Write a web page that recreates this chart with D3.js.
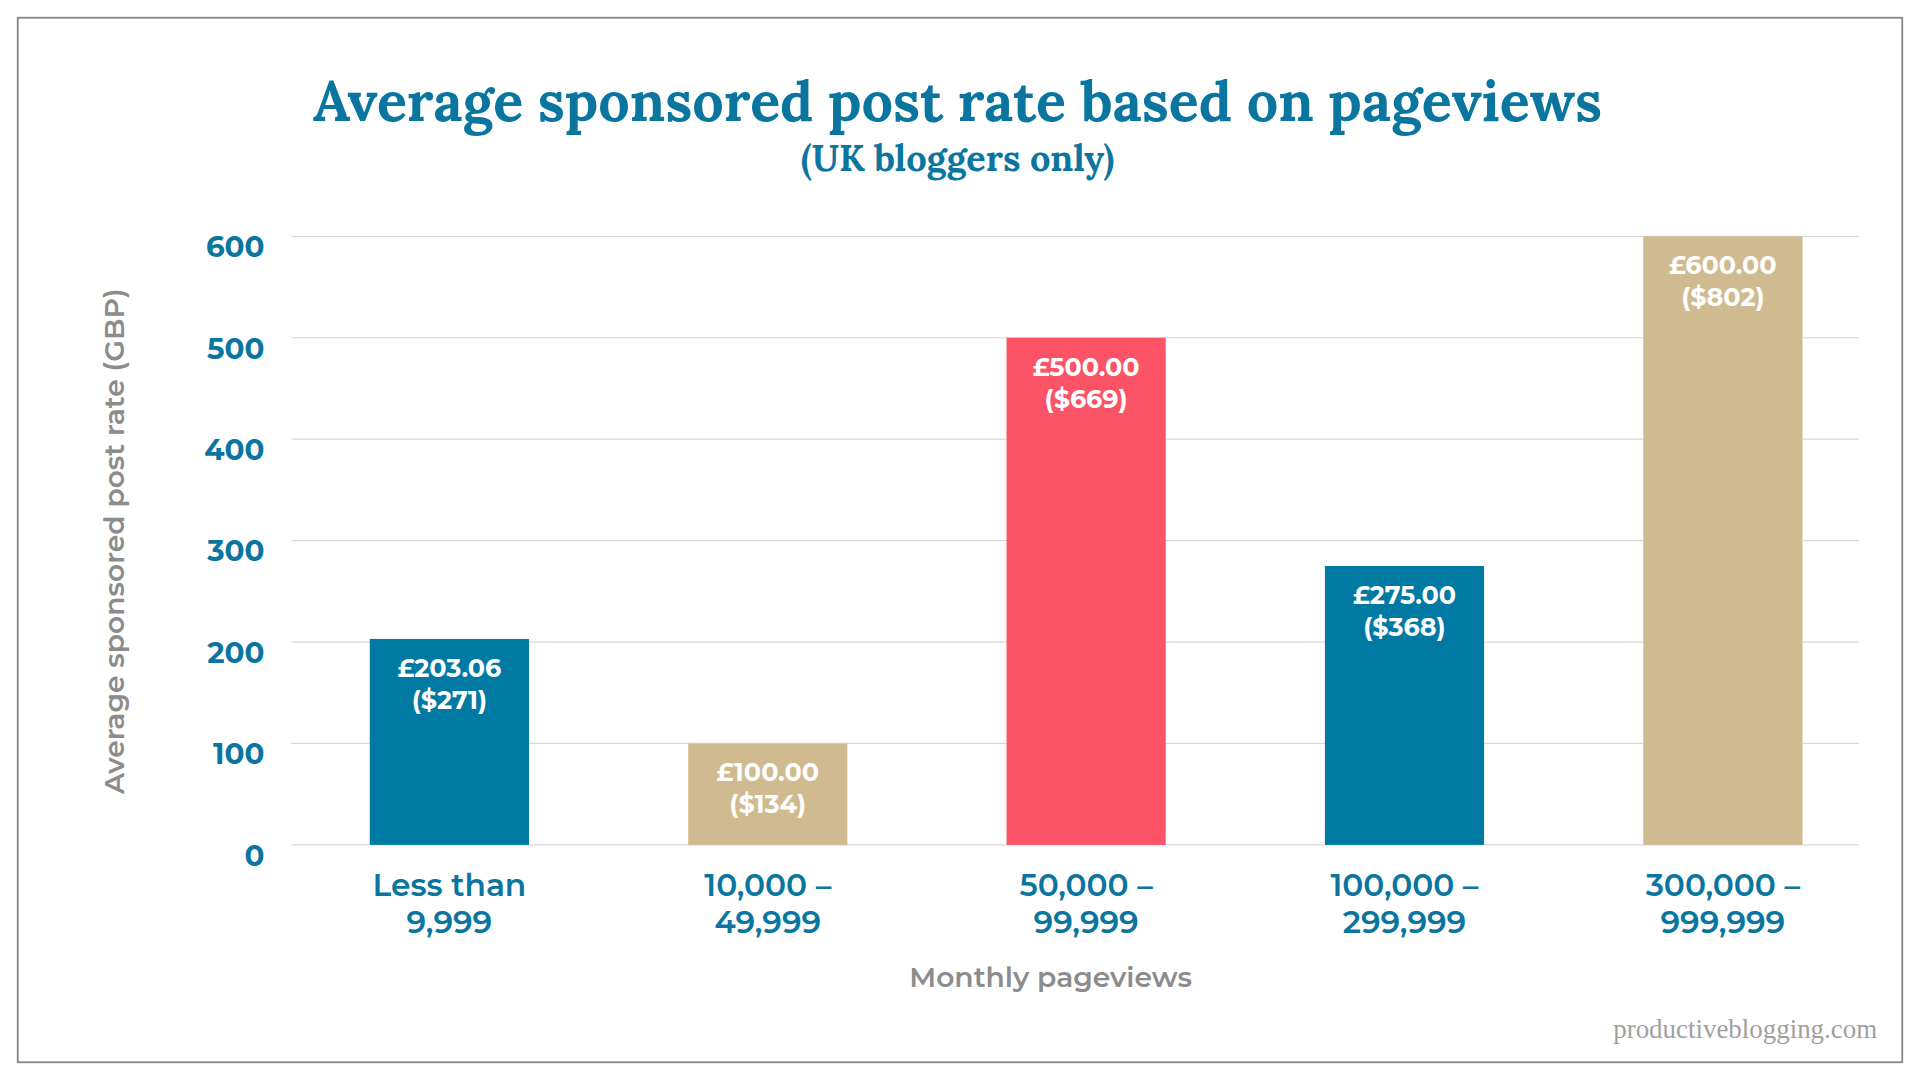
<!DOCTYPE html>
<html><head><meta charset="utf-8">
<script src="https://cdn.jsdelivr.net/npm/d3@7"></script>
<style>html,body{margin:0;padding:0;background:#fff;overflow:hidden}</style>
</head><body>
<svg id="c" width="1920" height="1080" viewBox="0 0 1568 882" preserveAspectRatio="none"></svg>
<script>
const categories = [["Less than","9,999"],["10,000 –","49,999"],["50,000 –","99,999"],["100,000 –","299,999"],["300,000 –","999,999"]];
const values = [203.06, 100, 500, 275, 600];
const labelsGBP = ["£203.06","£100.00","£500.00","£275.00","£600.00"];
const labelsUSD = ["($271)","($134)","($669)","($368)","($802)"];
const barColors = ["#0079a3","#cfbb8f","#fd5366","#0079a3","#cfbb8f"];
const yTicks = [0,100,200,300,400,500,600];

const svg = d3.select("#c");
const teal = "#0a76a0";
svg.append("rect").attr("x",14.5).attr("y",14.5).attr("width",1539).attr("height",853)
  .attr("fill","#fff").attr("stroke","#888").attr("stroke-width",1.5);

const x = d3.scaleBand().domain(d3.range(categories.length)).range([237,1537]).paddingInner(0.5).paddingOuter(0.25);
const y = d3.scaleLinear().domain([0,600]).range([690,193]);

svg.append("g").selectAll("line").data(yTicks).join("line")
  .attr("x1",238).attr("x2",1518).attr("y1",d=>y(d)).attr("y2",d=>y(d))
  .attr("stroke","#d9d9d9").attr("stroke-width",1);

svg.append("g").selectAll("text").data(yTicks).join("text")
  .attr("x",216).attr("y",d=>y(d)+17).attr("text-anchor","end")
  .attr("font-family","Montserrat, 'DejaVu Sans', sans-serif").attr("font-weight","bold")
  .attr("font-size",24).attr("fill",teal).text(d=>d);

svg.append("g").selectAll("rect").data(values).join("rect")
  .attr("x",(d,i)=>x(i)).attr("width",x.bandwidth())
  .attr("y",d=>y(d)).attr("height",d=>y(0)-y(d)).attr("fill",(d,i)=>barColors[i]);

const lab = svg.append("g").attr("font-family","Montserrat, 'DejaVu Sans', sans-serif")
  .attr("font-weight","bold").attr("font-size",20.8).attr("fill","#fff").attr("text-anchor","middle");
values.forEach((v,i)=>{
  const cx = x(i)+x.bandwidth()/2;
  lab.append("text").attr("x",cx).attr("y",y(v)+31).text(labelsGBP[i]);
  lab.append("text").attr("x",cx).attr("y",y(v)+57).text(labelsUSD[i]);
});

const xl = svg.append("g").attr("font-family","Montserrat, 'DejaVu Sans', sans-serif")
  .attr("font-weight","600").attr("font-size",25.5).attr("fill",teal).attr("text-anchor","middle");
categories.forEach((c,i)=>{
  const cx = x(i)+x.bandwidth()/2;
  xl.append("text").attr("x",cx).attr("y",732).text(c[0]);
  xl.append("text").attr("x",cx).attr("y",762).text(c[1]);
});

svg.append("text").attr("x",858).attr("y",806).attr("text-anchor","middle")
  .attr("font-family","Montserrat, 'DejaVu Sans', sans-serif").attr("font-size",23).attr("font-weight","600")
  .attr("fill","#8c8c8c").text("Monthly pageviews");
svg.append("text").attr("transform","translate(101,442) rotate(-90)").attr("text-anchor","middle")
  .attr("font-family","Montserrat, 'DejaVu Sans', sans-serif").attr("font-size",23).attr("font-weight","600")
  .attr("fill","#8c8c8c").text("Average sponsored post rate (GBP)");

svg.append("text").attr("x",782).attr("y",99).attr("text-anchor","middle")
  .attr("font-family","Lora, 'DejaVu Serif', serif").attr("font-weight","bold").attr("font-size",45.5)
  .attr("fill",teal).text("Average sponsored post rate based on pageviews");
svg.append("text").attr("x",782).attr("y",140).attr("text-anchor","middle")
  .attr("font-family","Lora, 'DejaVu Serif', serif").attr("font-weight","bold").attr("font-size",29.5)
  .attr("fill",teal).text("(UK bloggers only)");
svg.append("text").attr("x",1533).attr("y",848).attr("text-anchor","end")
  .attr("font-family","'Liberation Serif', serif").attr("font-size",22)
  .attr("fill","#a0a0a0").text("productiveblogging.com");
</script>
</body></html>
